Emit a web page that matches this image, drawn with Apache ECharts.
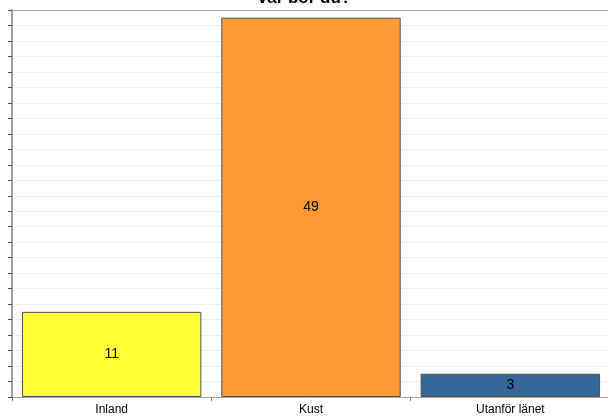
<!DOCTYPE html>
<html><head><meta charset="utf-8">
<script src="https://cdn.jsdelivr.net/npm/echarts@6/dist/echarts.min.js"></script>
<style>html,body{margin:0;padding:0;background:#fff}#c{width:608px;height:416px}</style>
</head><body><div id="c"></div>
<script>
var categories = ['Inland', 'Kust', 'Utanför länet'];
var values = [11, 49, 3];
var barColors = ['#FFFF33', '#FF9933', '#336699'];
var chart = echarts.init(document.getElementById('c'));
chart.setOption({
  animation: false,
  title: { text: 'Var bor du?', left: 'center', top: -15,
    textStyle: { fontFamily: 'Liberation Sans', fontSize: 17, fontWeight: 'bold', color: '#000' } },
  grid: { left: 12, width: 598, top: 10, bottom: 19, containLabel: false, outerBoundsMode: 'none' },
  xAxis: [{
    type: 'category', data: categories,
    axisLine: { lineStyle: { color: '#a0a0a0', width: 1 } },
    axisTick: { show: true, length: 4, lineStyle: { color: '#808080' } },
    axisLabel: { color: '#000', fontFamily: 'Liberation Sans', fontSize: 12, margin: 7 }
  }, {
    type: 'category', data: categories, position: 'top',
    axisLine: { lineStyle: { color: '#a0a0a0', width: 1 } },
    axisTick: { show: false }, axisLabel: { show: false }
  }],
  yAxis: {
    type: 'value', min: 0, max: 50, interval: 2,
    axisLine: { show: true, lineStyle: { color: '#a0a0a0', width: 2 } },
    axisTick: { show: true, length: 4, lineStyle: { color: '#505050' } },
    axisLabel: { show: false },
    splitLine: { lineStyle: { color: '#e0e0e0', type: 'dotted' } }
  },
  series: [{
    type: 'bar', data: values.map(function (v, i) {
      return { value: v, itemStyle: { color: barColors[i] } };
    }),
    barCategoryGap: '10%',
    itemStyle: { borderColor: '#505050', borderWidth: 1 },
    label: { show: true, position: 'inside', color: '#000', fontFamily: 'Liberation Sans', fontSize: 14 }
  }]
});
</script></body></html>
